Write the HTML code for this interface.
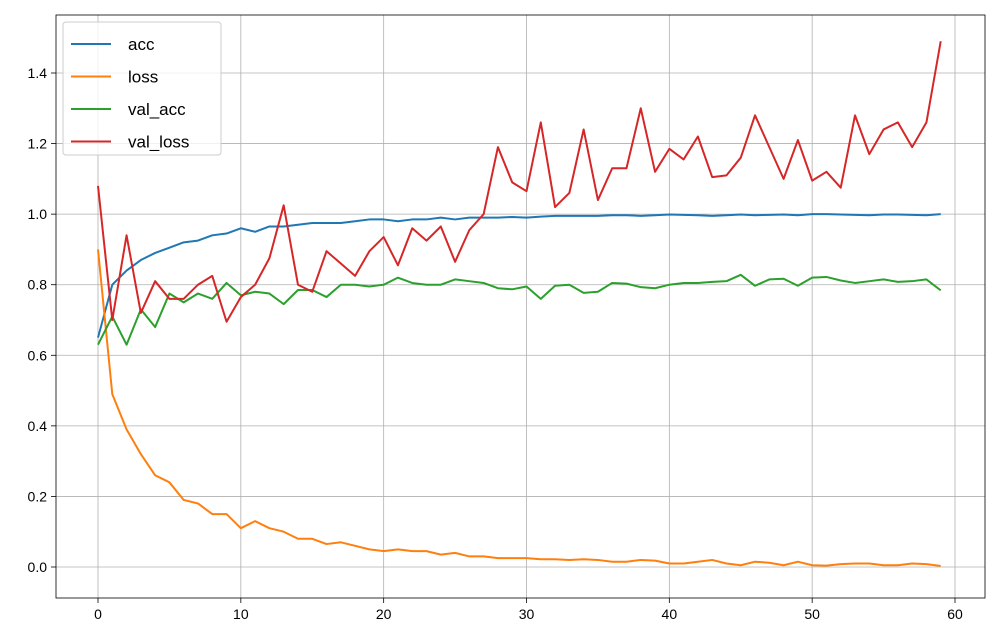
<!DOCTYPE html>
<html><head><meta charset="utf-8"><style>
body{margin:0;background:#fff;}
svg{display:block;font-family:"Liberation Sans","DejaVu Sans",sans-serif;}
</style></head><body>
<svg id="chart" width="994" height="631" viewBox="0 0 994 631"></svg>
<script>
const epochs = Array.from({length:60},(_,i)=>i);
const acc = [0.65,0.80,0.84,0.87,0.89,0.905,0.92,0.925,0.94,0.945,0.96,0.95,0.965,0.965,0.97,0.975,0.975,0.975,0.98,0.985,0.985,0.98,0.985,0.985,0.99,0.985,0.99,0.99,0.99,0.992,0.99,0.993,0.995,0.995,0.995,0.995,0.997,0.997,0.995,0.997,0.999,0.998,0.997,0.995,0.997,0.999,0.997,0.998,0.999,0.997,1.0,1.0,0.999,0.998,0.997,0.999,0.999,0.998,0.997,1.0];
const loss = [0.90,0.49,0.39,0.32,0.26,0.24,0.19,0.18,0.15,0.15,0.11,0.13,0.11,0.10,0.08,0.08,0.065,0.07,0.06,0.05,0.045,0.05,0.045,0.045,0.035,0.04,0.03,0.03,0.025,0.025,0.025,0.022,0.022,0.02,0.022,0.02,0.015,0.015,0.02,0.018,0.01,0.01,0.015,0.02,0.01,0.005,0.015,0.012,0.005,0.015,0.005,0.004,0.008,0.01,0.01,0.005,0.005,0.01,0.008,0.003];
const valAcc = [0.63,0.71,0.63,0.73,0.68,0.775,0.75,0.775,0.76,0.805,0.77,0.78,0.775,0.745,0.785,0.785,0.765,0.80,0.80,0.795,0.80,0.82,0.805,0.80,0.80,0.815,0.81,0.805,0.79,0.787,0.795,0.76,0.797,0.80,0.777,0.78,0.805,0.803,0.793,0.79,0.80,0.805,0.805,0.808,0.81,0.828,0.797,0.815,0.817,0.797,0.82,0.822,0.812,0.805,0.81,0.815,0.808,0.81,0.815,0.784];
const valLoss = [1.08,0.70,0.94,0.72,0.81,0.76,0.76,0.80,0.825,0.695,0.765,0.80,0.875,1.025,0.80,0.78,0.895,0.86,0.825,0.895,0.935,0.855,0.96,0.925,0.965,0.865,0.955,1.0,1.19,1.09,1.065,1.26,1.02,1.06,1.24,1.04,1.13,1.13,1.30,1.12,1.185,1.155,1.22,1.105,1.11,1.16,1.28,1.19,1.10,1.21,1.095,1.12,1.075,1.28,1.17,1.24,1.26,1.19,1.26,1.49];
const xTicks = [0,10,20,30,40,50,60];
const yTicks = [0.0,0.2,0.4,0.6,0.8,1.0,1.2,1.4];
const seriesNames = ["acc","loss","val_acc","val_loss"];
const colors = ["#1f77b4","#ff7f0e","#2ca02c","#d62728"];

const L=56,R=985,T=15,B=598;
const sx=v=>98+(955-98)*v/60;
const sy=v=>567-(567-73)*v/1.4;
const svg=document.getElementById('chart');
const NS="http://www.w3.org/2000/svg";
function mk(tag,attrs,parent){const e=document.createElementNS(NS,tag);for(const k in attrs)e.setAttribute(k,attrs[k]);(parent||svg).appendChild(e);return e;}

xTicks.forEach(t=>{
  const g=mk('line',{x1:sx(t),x2:sx(t),y1:T,y2:B,stroke:'#b0b0b0','stroke-width':0.8});
  
  
  mk('line',{x1:sx(t),x2:sx(t),y1:B,y2:B+5,stroke:'#000','stroke-width':0.8});
  const tx=mk('text',{x:sx(t),y:B+21,'text-anchor':'middle','font-size':14,fill:'#000'});
  tx.textContent=t;
  
  
});
yTicks.forEach(t=>{
  const g=mk('line',{x1:L,x2:R,y1:sy(t),y2:sy(t),stroke:'#b0b0b0','stroke-width':0.8});
  
  
  mk('line',{x1:L-5,x2:L,y1:sy(t),y2:sy(t),stroke:'#000','stroke-width':0.8});
  const tx=mk('text',{x:L-9,y:sy(t)+5,'text-anchor':'end','font-size':14,fill:'#000'});
  tx.textContent=t.toFixed(1);
  
  
});
[acc,loss,valAcc,valLoss].forEach((s,i)=>{
  const p=mk('polyline',{points:s.map((v,j)=>sx(epochs[j])+','+sy(v)).join(' '),fill:'none',stroke:colors[i],'stroke-width':2,'stroke-linejoin':'round'});
  
  
});
const fr=mk('rect',{x:L,y:T,width:R-L,height:B-T,fill:'none',stroke:'#000','stroke-width':0.8});



const lg=mk('g',{});


mk('rect',{x:63,y:22,width:158,height:133,rx:3,fill:'#fff','fill-opacity':0.8,stroke:'#ccc'},lg);
seriesNames.forEach((n,i)=>{
  const y=44+i*32.5;
  const ln=mk('line',{x1:71,x2:111,y1:y,y2:y,stroke:colors[i],'stroke-width':2},lg);
  
  
  const tx=mk('text',{x:128,y:y+6,'font-size':17,fill:'#000'},lg);
  tx.textContent=n;
  
  
});
</script>
</body></html>
